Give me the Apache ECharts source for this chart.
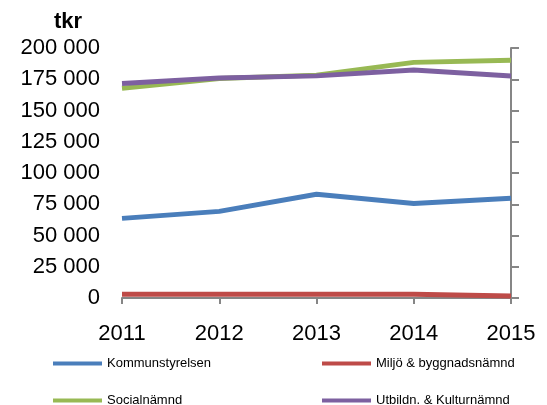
<!DOCTYPE html>
<html>
<head>
<meta charset="utf-8">
<script src="https://cdn.jsdelivr.net/npm/echarts@6/dist/echarts.min.js"></script>
<style>
  html, body { margin: 0; padding: 0; background: #fff; }
  #chart { width: 547px; height: 405px; }
</style>
</head>
<body>
<div id="chart"></div>
<script>
var years = ['2011', '2012', '2013', '2014', '2015']
var kommunstyrelsen = [63700, 69300, 83000, 75600, 79800]
var miljo = [3000, 3000, 3000, 3000, 1600]
var social = [167800, 175600, 178300, 188500, 190200]
var utbildn = [171600, 176000, 177700, 182400, 177600]

var font = 'Liberation Sans'
function fmt(v) {
  return String(v).replace(/\B(?=(\d{3})+(?!\d))/g, ' ')
}

// one legend per item so the 2x2 layout is fixed
function leg(name, left, top) {
  return {
    data: [name],
    left: left, top: top,
    itemWidth: 49, itemHeight: 4, itemGap: 0,
    icon: 'rect',
    textStyle: { fontSize: 13, color: '#000', fontFamily: font }
  }
}

var chart = echarts.init(document.getElementById('chart'))
chart.setOption({
  animation: false,
  textStyle: { fontFamily: font, color: '#000' },
  title: {
    text: 'tkr',
    left: 49, top: 6,
    textStyle: { fontSize: 22, fontWeight: 'bold', color: '#000', fontFamily: font }
  },
  grid: { left: 122, right: 36, top: 48, bottom: 107 },
  color: ['#4a7ebb', '#be4b48', '#98b954', '#7d60a0'],
  legend: [
    leg('Kommunstyrelsen', 48, 352),
    leg('Miljö & byggnadsnämnd', 317, 352),
    leg('Socialnämnd', 48, 389),
    leg('Utbildn. & Kulturnämnd', 317, 389)
  ],
  xAxis: {
    type: 'category',
    data: years,
    boundaryGap: false,
    axisLine: { lineStyle: { color: '#868686', width: 2 } },
    axisTick: { show: true, length: 6, lineStyle: { color: '#868686', width: 2 } },
    axisLabel: { fontSize: 22, color: '#000', margin: 25, fontFamily: font }
  },
  yAxis: [
    {
      type: 'value',
      position: 'left',
      min: 0, max: 200000, interval: 25000,
      axisLine: { show: false },
      axisTick: { show: false },
      splitLine: { show: false },
      axisLabel: { fontSize: 22, color: '#000', margin: 22, fontFamily: font, formatter: fmt }
    },
    {
      type: 'value',
      position: 'right',
      min: 0, max: 200000, interval: 25000,
      axisLine: { show: true, lineStyle: { color: '#868686', width: 2 } },
      axisTick: { show: true, length: 8, lineStyle: { color: '#868686', width: 2 } },
      splitLine: { show: false },
      axisLabel: { show: false }
    }
  ],
  series: [
    { name: 'Kommunstyrelsen', type: 'line', data: kommunstyrelsen, symbol: 'none', lineStyle: { width: 5 } },
    { name: 'Miljö & byggnadsnämnd', type: 'line', data: miljo, symbol: 'none', lineStyle: { width: 5 } },
    { name: 'Socialnämnd', type: 'line', data: social, symbol: 'none', lineStyle: { width: 5 } },
    { name: 'Utbildn. & Kulturnämnd', type: 'line', data: utbildn, symbol: 'none', lineStyle: { width: 5 } }
  ]
})
</script>
</body>
</html>
